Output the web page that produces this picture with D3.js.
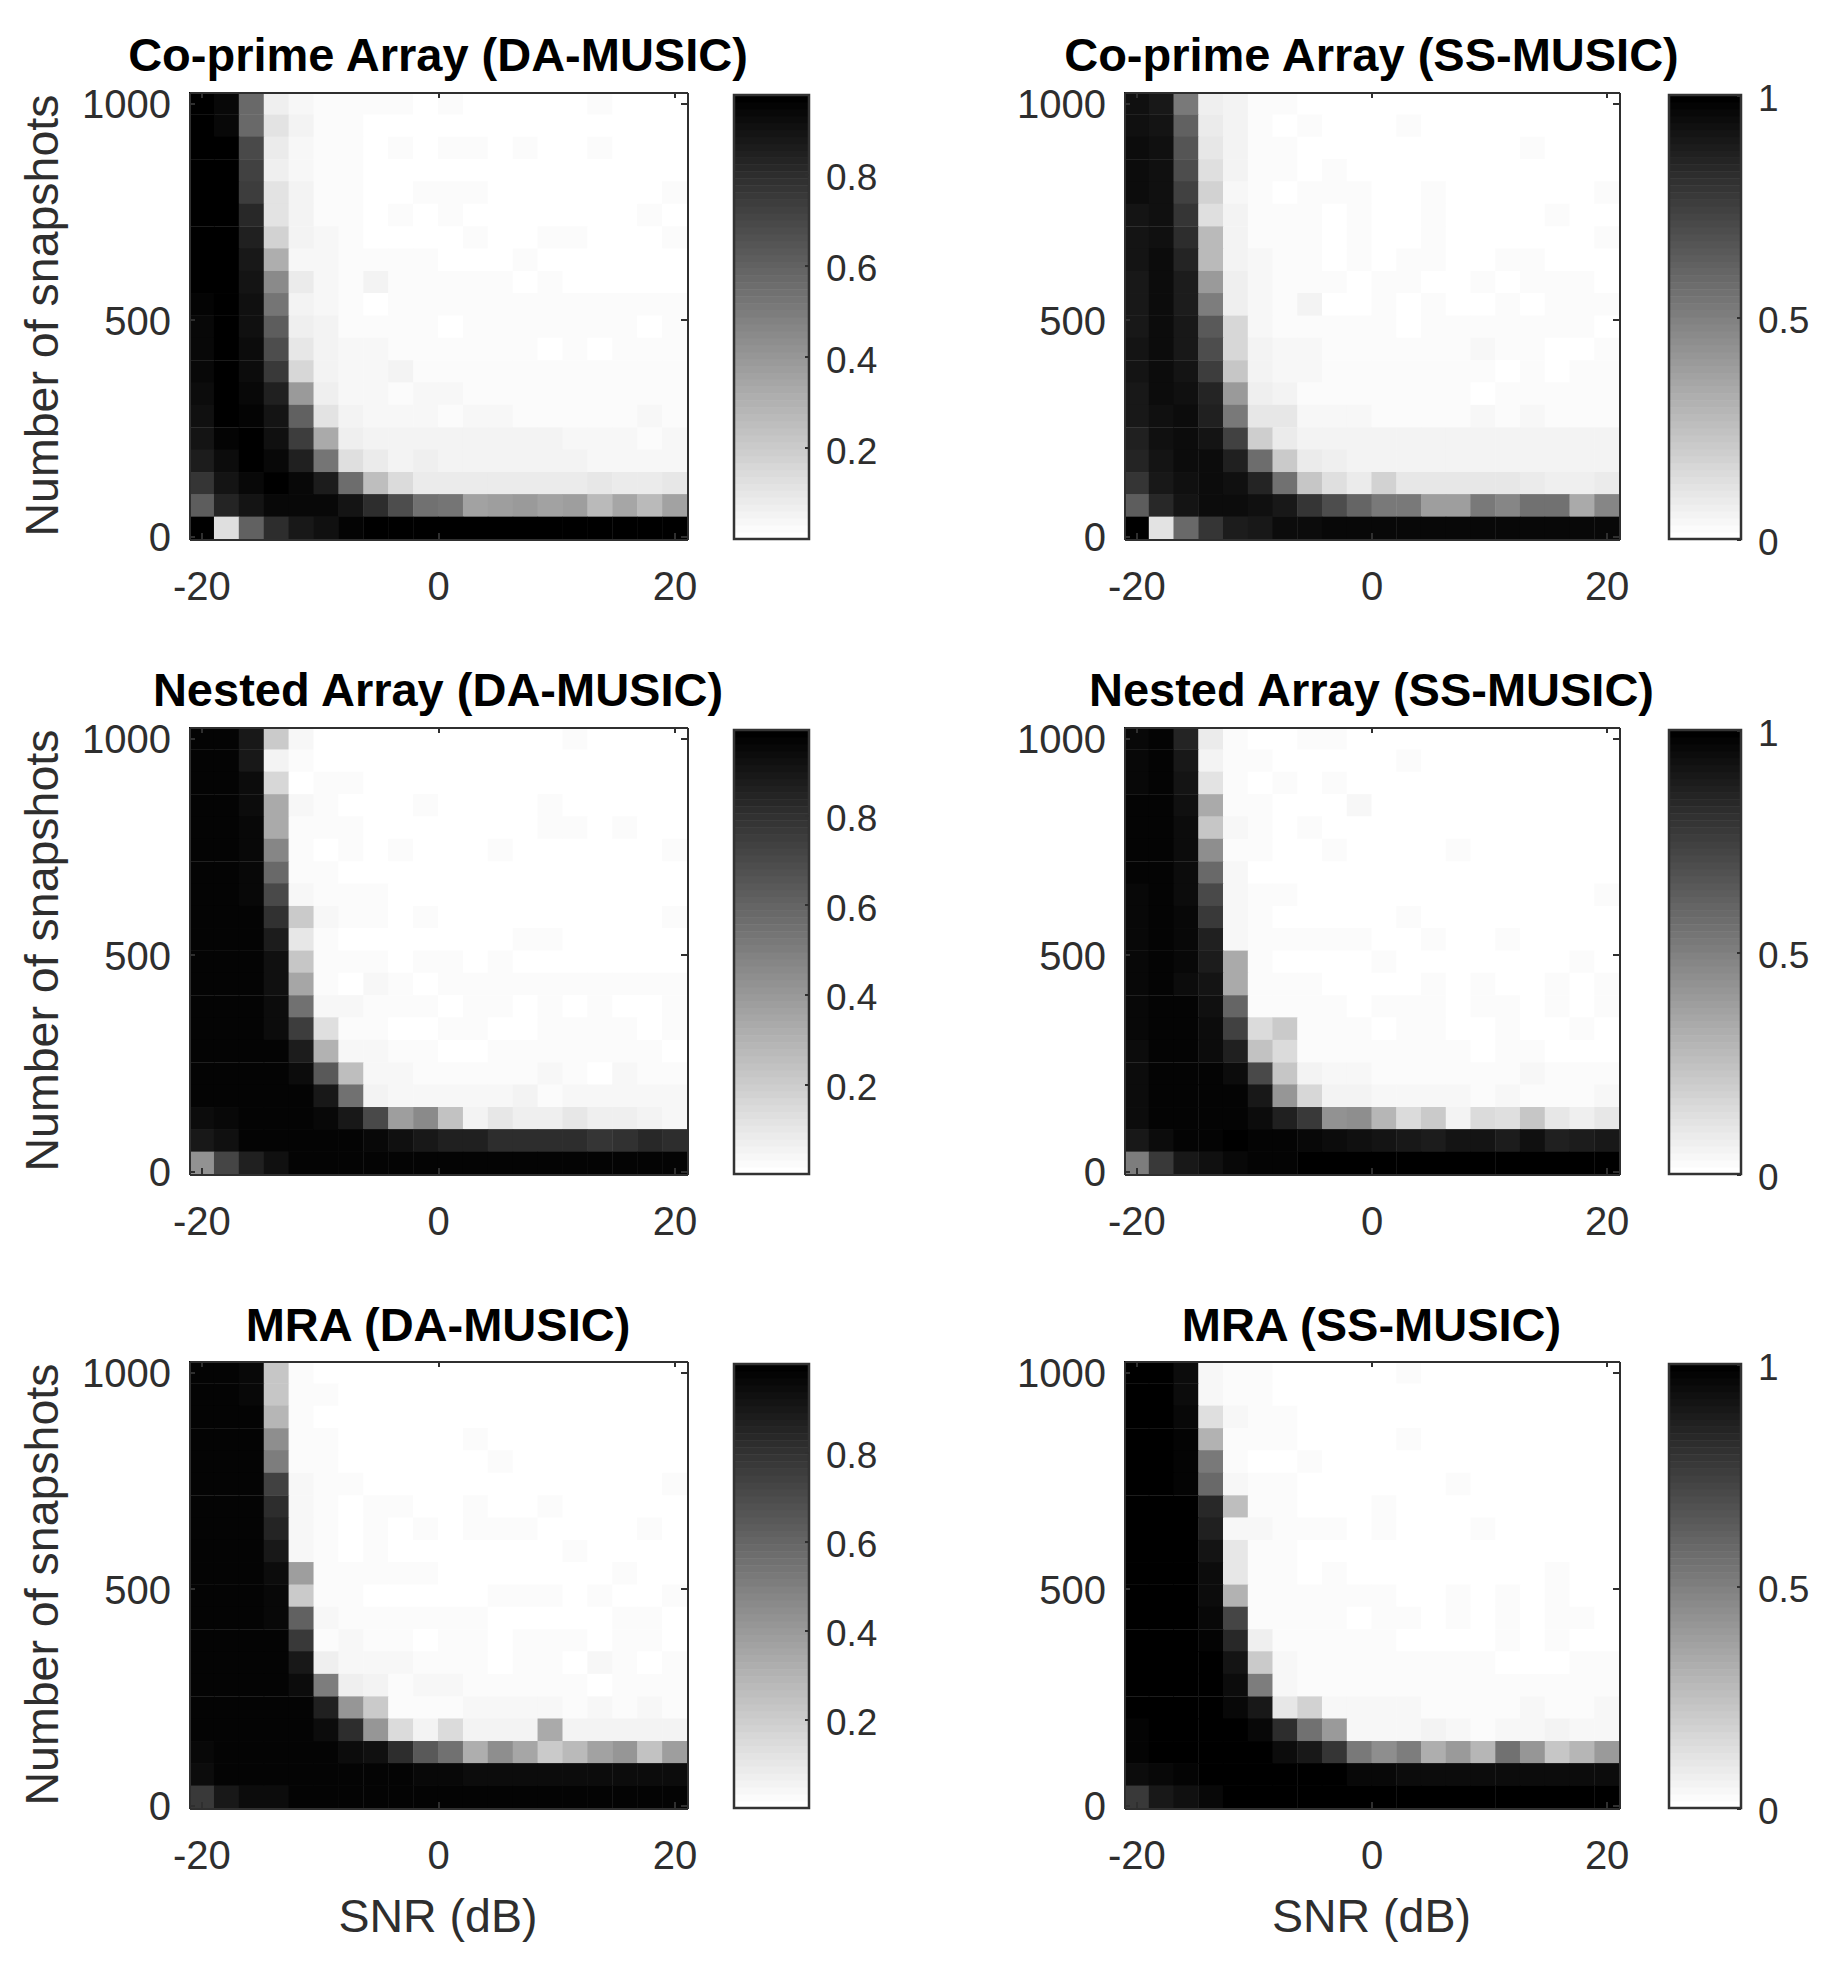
<!DOCTYPE html>
<html lang="en">
<head>
<meta charset="utf-8">
<title>Resolution probability maps</title>
<script src="https://cdn.jsdelivr.net/npm/d3@7/dist/d3.min.js"></script>
<style>
  html, body { margin: 0; padding: 0; background: #fff; }
  svg { display: block; font-family: "Liberation Sans", Arimo, sans-serif; }
  .axis path, .axis line { stroke: #2f2f2f; fill: none; shape-rendering: crispEdges; }
  .axis path { stroke-width: 2px; }
  .axis line { stroke-width: 2px; }
  .axis text { fill: #2e2e2e; font-size: 40px; }
  .bar-axis text { font-size: 37px; }
  .label { fill: #2e2e2e; font-size: 46.5px; }
  .title { fill: #000; font-size: 47px; font-weight: bold; }
</style>
</head>
<body>
<script>
// cell centres, SNR in dB and number of snapshots
var snr = [-20,-17.89,-15.79,-13.68,-11.58,-9.47,-7.37,-5.26,-3.16,-1.05,1.05,3.16,5.26,7.37,9.47,11.58,13.68,15.79,17.89,20];
var snapshots = [1000,948,897,845,794,742,690,639,587,536,484,433,381,330,278,226,175,123,72,20];
var snrStep = 2.105, snapStep = 51.58;

var snrTicks = [-20, 0, 20];
var snapTicks = [0, 500, 1000];

var titles = ["Co-prime Array (DA-MUSIC)", "Co-prime Array (SS-MUSIC)", "Nested Array (DA-MUSIC)",
              "Nested Array (SS-MUSIC)", "MRA (DA-MUSIC)", "MRA (SS-MUSIC)"];

// colour limits of each panel and the ticks of its colorbar
var colorMax = [0.975, 1, 0.99, 1, 1, 1];
var daBarTicks = [0.2, 0.4, 0.6, 0.8];
var ssBarTicks = [0, 0.5, 1];

// values in percent, rows from 1000 snapshots down to 20
var coprimeDA = [
  [98,94,58,6,3,1,1,1,1,0,1,0,0,0,0,0,1,0,0,0],
  [98,94,58,11,5,2,2,0,0,0,0,0,0,0,0,0,0,0,0,0],
  [98,97,70,8,3,1,1,0,1,0,1,1,0,1,0,0,1,0,0,0],
  [98,97,72,6,3,1,1,0,0,0,0,0,0,0,0,0,0,0,0,0],
  [98,97,75,11,4,1,1,0,0,1,1,1,0,0,0,0,0,0,0,1],
  [97,97,82,11,4,2,1,0,1,0,1,0,0,0,0,0,0,0,1,0],
  [97,97,85,17,5,3,1,0,0,0,0,1,0,0,1,1,0,0,0,1],
  [97,98,88,31,3,3,2,2,2,2,0,0,0,1,0,0,0,0,0,0],
  [97,98,90,45,7,3,2,4,2,2,2,1,2,0,2,0,0,0,0,0],
  [96,98,92,53,5,3,2,0,1,1,1,1,2,2,2,1,2,1,2,1],
  [95,98,92,62,6,4,2,2,2,2,0,1,1,1,2,2,2,2,0,1],
  [95,98,93,68,9,4,3,3,2,2,2,2,2,2,0,2,0,2,2,2],
  [95,98,93,76,16,4,3,3,4,2,2,2,2,2,2,2,2,2,2,2],
  [93,98,94,85,38,6,3,3,2,3,3,2,2,2,2,2,2,2,2,2],
  [92,97,96,90,60,11,4,3,3,3,2,3,3,2,2,2,2,2,3,2],
  [90,96,97,92,74,32,6,5,4,4,5,4,4,4,4,3,3,3,2,3],
  [86,93,97,95,85,52,12,7,5,6,5,5,5,5,5,5,3,3,3,3],
  [78,89,95,97,94,86,55,24,14,8,8,7,7,7,7,7,9,7,7,9],
  [62,83,90,94,95,95,90,80,68,54,52,35,37,38,35,37,27,34,27,36],
  [97,13,60,80,88,91,96,97,97,97,97,97,97,97,97,97,97,97,97,97]
];
var coprimeSS = [
  [93,91,53,6,4,2,2,0,0,0,0,0,0,0,0,0,0,0,0,0],
  [94,92,62,8,4,2,0,1,0,0,0,1,0,0,0,0,0,0,0,0],
  [95,94,67,10,4,2,2,0,0,0,0,0,0,0,0,0,1,0,0,0],
  [95,94,70,12,5,2,2,0,1,0,0,0,0,0,0,0,0,0,0,0],
  [95,94,75,18,3,2,0,1,1,1,0,0,1,0,0,0,0,0,0,1],
  [92,94,80,12,4,2,1,1,0,1,0,0,1,0,0,0,0,1,0,0],
  [92,94,83,27,4,2,1,1,0,1,0,0,1,0,0,0,0,0,0,1],
  [92,96,86,27,5,3,1,1,0,1,0,1,1,0,0,1,1,0,0,0],
  [91,96,89,40,7,3,2,2,2,0,1,1,0,0,1,0,1,1,1,0],
  [90,96,89,50,7,3,2,4,0,0,1,0,2,0,0,2,0,2,2,1],
  [90,96,90,65,16,3,2,2,2,2,1,0,2,2,2,2,2,2,1,0],
  [92,96,91,70,16,4,3,3,2,2,2,2,2,2,3,2,2,0,0,2],
  [92,96,92,76,23,4,3,3,2,2,2,2,2,2,2,0,2,0,2,2],
  [91,95,93,85,40,6,5,2,2,2,2,2,2,2,0,2,2,2,2,2],
  [90,94,96,88,52,10,9,3,3,3,2,2,2,1,3,1,3,2,2,2],
  [88,93,95,92,75,19,8,5,4,5,4,4,4,4,4,4,4,4,4,4],
  [86,92,95,95,87,57,20,8,6,5,5,5,5,5,5,4,4,4,5,5],
  [80,90,93,95,93,85,55,22,13,8,18,9,9,9,9,9,8,7,7,8],
  [64,84,92,95,95,93,90,80,70,60,53,52,38,38,53,47,55,55,33,48],
  [100,11,58,80,89,91,95,95,97,97,97,97,97,97,97,97,97,97,97,97]
];
var nestedDA = [
  [98,98,90,20,3,0,0,0,0,0,0,0,0,0,0,1,0,0,0,0],
  [98,98,90,4,2,0,0,0,0,0,0,0,0,0,0,0,0,0,0,0],
  [98,98,95,15,0,1,1,0,0,0,0,0,0,0,0,0,0,0,0,0],
  [98,98,95,33,3,1,0,0,0,1,0,0,0,0,1,0,0,0,0,0],
  [98,98,96,33,1,1,1,0,0,0,0,0,0,0,1,1,0,1,0,0],
  [98,98,96,47,1,0,1,0,1,0,0,0,1,0,0,0,0,0,0,1],
  [98,98,96,58,1,1,0,0,0,0,0,0,0,0,0,0,0,0,0,0],
  [98,98,96,70,3,2,2,2,0,0,0,0,0,0,0,0,0,0,0,0],
  [98,98,98,80,20,3,2,2,0,1,0,0,0,0,0,0,0,0,0,1],
  [98,98,98,88,9,1,0,0,0,0,0,0,0,1,1,0,0,0,0,0],
  [98,98,98,92,22,2,1,1,0,1,1,0,1,0,0,0,0,0,0,0],
  [98,98,98,92,35,2,0,3,2,0,1,1,1,2,1,1,2,1,2,1],
  [98,98,98,94,55,3,3,2,2,2,0,1,1,0,1,0,2,0,0,1],
  [98,98,98,95,75,12,2,2,0,0,1,1,0,0,1,1,1,1,0,1],
  [98,98,98,98,88,30,3,3,2,2,0,0,1,1,1,2,2,1,1,0],
  [97,98,98,98,94,65,25,3,3,2,2,2,2,2,3,2,0,3,1,2],
  [97,98,98,98,98,90,55,4,3,3,3,3,3,4,2,3,3,3,3,3],
  [95,96,98,98,98,96,90,70,38,45,24,5,9,7,7,10,6,6,5,3],
  [90,93,98,98,98,98,98,96,92,90,87,86,82,82,82,82,78,80,83,82],
  [42,73,86,92,97,97,98,98,98,98,98,98,98,98,98,98,98,98,98,98]
];
var nestedSS = [
  [97,99,85,8,2,0,0,1,1,0,0,0,0,0,0,0,0,0,0,0],
  [97,99,91,4,2,2,0,0,0,0,0,1,0,0,0,0,0,0,0,0],
  [97,99,92,11,1,0,2,0,2,0,0,0,0,0,0,0,0,0,0,0],
  [98,99,94,33,1,1,0,0,0,3,0,0,0,0,0,0,0,0,0,0],
  [98,99,95,23,3,1,0,1,0,0,0,0,0,0,0,0,0,0,0,0],
  [98,99,96,45,1,1,0,0,1,0,0,0,0,1,0,0,0,0,0,0],
  [98,99,96,58,3,0,0,0,0,0,0,0,0,0,0,0,0,0,0,0],
  [97,99,96,72,3,1,1,0,0,0,0,0,0,0,0,0,0,0,0,1],
  [97,99,97,78,3,1,0,0,0,0,0,1,0,0,0,0,0,0,0,0],
  [97,99,97,87,3,2,2,2,1,2,0,0,1,0,0,1,0,0,0,0],
  [97,99,97,89,33,1,0,0,0,0,1,0,0,0,0,0,0,0,1,0],
  [97,99,96,92,34,2,2,2,0,0,0,0,1,0,1,0,0,1,0,1],
  [97,99,99,93,60,2,2,2,1,0,1,1,1,0,1,1,0,1,0,1],
  [97,99,99,95,75,14,20,1,1,1,0,1,1,0,0,1,0,0,1,0],
  [96,98,99,96,88,24,14,1,2,1,1,1,1,1,0,1,1,0,0,0],
  [96,98,99,98,95,72,22,5,3,3,2,2,2,2,2,2,3,2,2,2],
  [96,98,99,99,98,90,42,16,5,5,3,3,3,3,2,3,2,2,2,3],
  [95,98,98,99,98,96,88,78,43,45,29,15,20,4,15,13,22,9,6,10],
  [90,95,98,99,100,99,98,97,95,94,92,90,89,92,92,89,93,88,89,90],
  [50,78,90,94,97,98,98,100,100,100,100,100,100,100,100,100,100,100,100,100]
];
var mraDA = [
  [99,99,97,22,2,0,0,0,0,0,0,0,0,0,0,0,0,0,0,0],
  [99,99,97,22,2,2,0,0,0,0,0,0,0,0,0,0,0,0,0,0],
  [99,99,98,28,2,0,0,0,0,0,0,0,0,0,0,0,0,0,0,0],
  [99,99,98,45,2,2,0,0,0,0,0,1,0,0,0,0,0,0,0,0],
  [99,99,98,50,2,1,0,0,0,0,0,0,1,0,0,0,0,0,0,0],
  [99,99,99,75,3,2,2,0,0,0,0,0,0,0,0,0,0,0,0,1],
  [99,99,99,83,3,1,0,1,1,0,0,1,0,0,1,0,0,0,0,0],
  [99,99,99,86,3,1,0,1,0,2,0,1,1,1,0,0,0,0,1,0],
  [99,99,99,90,3,2,0,1,0,0,0,0,0,0,0,1,0,0,0,0],
  [99,99,99,95,38,2,1,1,1,1,0,0,0,0,0,0,0,1,0,0],
  [99,99,99,97,20,1,1,0,0,0,0,0,1,1,1,0,1,0,0,1],
  [99,99,99,97,62,3,2,2,2,2,1,1,0,0,0,0,0,1,1,0],
  [99,99,99,99,78,1,3,2,2,0,2,1,0,1,1,1,0,1,1,0],
  [99,99,99,99,90,6,3,3,3,2,2,1,0,1,1,0,3,1,0,1],
  [99,99,99,99,95,50,6,4,2,3,3,2,2,2,2,2,0,2,2,2],
  [99,99,99,99,99,87,42,20,2,2,2,3,3,3,3,2,3,2,3,2],
  [99,99,99,99,99,96,82,42,14,5,15,4,4,4,34,5,5,5,5,5],
  [97,99,99,99,99,99,96,93,82,65,55,32,45,35,20,27,36,42,24,38],
  [96,99,99,99,99,99,99,99,99,97,97,95,95,95,95,95,95,95,95,95],
  [78,90,95,96,99,99,99,99,99,99,99,99,99,99,99,99,99,99,99,99]
];
var mraSS = [
  [100,100,96,3,2,2,0,0,0,0,0,1,0,0,0,0,0,0,0,0],
  [100,100,96,3,2,2,0,0,0,0,0,0,0,0,0,0,0,0,0,0],
  [100,100,97,13,3,1,1,0,0,0,0,0,0,0,0,0,0,0,0,0],
  [100,100,98,30,1,1,1,0,0,0,0,1,0,0,0,0,0,0,0,0],
  [100,100,98,52,1,0,0,1,0,0,0,0,0,0,0,0,0,0,0,0],
  [100,100,99,58,3,1,1,0,0,0,0,0,0,1,0,0,0,0,0,0],
  [100,100,100,84,25,1,1,0,0,0,1,0,0,0,0,0,0,0,0,0],
  [100,100,100,87,3,3,1,1,1,0,1,0,0,0,1,0,0,0,0,0],
  [100,100,100,92,9,2,1,0,0,0,0,0,0,0,0,0,0,0,0,0],
  [100,100,100,95,9,2,1,0,1,0,0,0,0,0,0,0,0,1,0,0],
  [100,100,100,96,30,2,1,1,1,1,1,0,0,1,0,1,0,1,0,0],
  [100,100,100,97,73,2,1,1,1,0,1,1,0,1,0,1,0,1,1,0],
  [100,100,100,98,84,6,1,1,1,1,1,0,0,0,0,1,0,1,0,0],
  [100,100,100,100,92,20,3,1,1,1,1,1,1,1,1,0,0,0,1,1],
  [100,100,100,100,96,50,3,1,1,1,1,1,1,1,1,1,1,2,1,1],
  [100,100,100,100,97,90,9,17,3,3,3,3,2,2,2,2,3,2,2,3],
  [98,100,100,100,100,97,82,56,39,3,3,3,4,3,2,3,3,4,3,3],
  [98,100,100,100,100,100,96,91,79,52,45,50,32,40,28,56,42,22,28,40],
  [96,97,99,100,100,100,100,100,100,97,97,96,96,96,96,96,96,96,96,96],
  [78,90,94,97,100,100,100,100,100,100,100,100,100,100,100,100,100,100,100,100]
];
var panelData = [coprimeDA, coprimeSS, nestedDA, nestedSS, mraDA, mraSS];

// layout, pixels
var colX = [{left: 189, right: 687, barLeft: 734, barRight: 809},
            {left: 1124, right: 1619, barLeft: 1669, barRight: 1741}];
var rowY = [{top: 92, bottom: 539, barTop: 95, titleY: 71},
            {top: 727, bottom: 1174, barTop: 730, titleY: 706},
            {top: 1361, bottom: 1808, barTop: 1364, titleY: 1341}];

var grays = d3.range(64).map(function(i) {
  var g = Math.round(255 * (1 - i / 63));
  return d3.rgb(g, g, g).formatHex();
});

var svg = d3.select("body").append("svg")
  .attr("width", 1848)
  .attr("height", 1984);

panelData.forEach(function(values, p) {
  var col = colX[p % 2], row = rowY[Math.floor(p / 2)];
  var isDA = p % 2 == 0;

  var xScale = d3.scaleLinear()
    .domain([-20 - snrStep / 2, 20 + snrStep / 2])
    .range([col.left, col.right]);
  var yScale = d3.scaleLinear()
    .domain([20 - snapStep / 2, 1000 + snapStep / 2])
    .range([row.bottom, row.top]);
  // half a level of padding so that a value rounds to the nearest gray
  var halfLevel = colorMax[p] / 126;
  var color = d3.scaleQuantize()
    .domain([-halfLevel, colorMax[p] + halfLevel])
    .range(grays);

  var g = svg.append("g");

  // heat map cells
  values.forEach(function(rowValues, r) {
    g.selectAll(null)
      .data(rowValues)
      .enter()
      .append("rect")
      .attr("x", function(d, c) { return xScale(snr[c] - snrStep / 2); })
      .attr("width", xScale(snrStep) - xScale(0) + 0.5)
      .attr("y", yScale(snapshots[r] + snapStep / 2))
      .attr("height", yScale(0) - yScale(snapStep) + 0.5)
      .attr("fill", function(d) { return color(d / 100); });
  });

  // axes with ticks on all four sides, pointing inward
  var bottom = d3.axisBottom(xScale).tickValues(snrTicks).tickSizeInner(-6).tickSizeOuter(0).tickPadding(33).tickFormat(function(d) { return String(d); });
  var left = d3.axisLeft(yScale).tickValues(snapTicks).tickSizeInner(-6).tickSizeOuter(0).tickPadding(18).tickFormat(function(d) { return String(d); });
  var top = d3.axisTop(xScale).tickValues(snrTicks).tickSizeInner(-6).tickSizeOuter(0).tickFormat("");
  var right = d3.axisRight(yScale).tickValues(snapTicks).tickSizeInner(-6).tickSizeOuter(0).tickFormat("");

  g.append("g").attr("class", "axis").attr("transform", "translate(0," + row.bottom + ")").call(bottom);
  g.append("g").attr("class", "axis y-left").attr("transform", "translate(" + col.left + ",0)").call(left);
  g.append("g").attr("class", "axis").attr("transform", "translate(0," + row.top + ")").call(top);
  g.append("g").attr("class", "axis").attr("transform", "translate(" + col.right + ",0)").call(right);

  // matlab labels hang a little under the tick
  g.selectAll(".y-left text").attr("dy", "0.36em");

  g.append("text")
    .attr("class", "title")
    .attr("x", (col.left + col.right) / 2)
    .attr("y", row.titleY)
    .attr("text-anchor", "middle")
    .text(titles[p]);

  if (isDA) {
    g.append("text")
      .attr("class", "label")
      .attr("text-anchor", "middle")
      .attr("transform", "translate(58," + (row.top + row.bottom) / 2 + ") rotate(-90)")
      .text("Number of snapshots");
  }
  if (p >= 4) {
    g.append("text")
      .attr("class", "label")
      .attr("text-anchor", "middle")
      .attr("x", (col.left + col.right) / 2)
      .attr("y", 1932)
      .text("SNR (dB)");
  }

  // colorbar
  var barScale = d3.scaleLinear()
    .domain([0, colorMax[p]])
    .range([row.bottom, row.barTop]);
  g.selectAll(null)
    .data(grays)
    .enter()
    .append("rect")
    .attr("x", col.barLeft)
    .attr("width", col.barRight - col.barLeft)
    .attr("y", function(d, i) { return barScale(colorMax[p] * (i + 1) / 64); })
    .attr("height", (row.bottom - row.barTop) / 64 + 0.5)
    .attr("fill", function(d) { return d; });
  g.append("rect")
    .attr("x", col.barLeft)
    .attr("y", row.barTop)
    .attr("width", col.barRight - col.barLeft)
    .attr("height", row.bottom - row.barTop)
    .attr("fill", "none")
    .attr("stroke", "#333")
    .attr("stroke-width", 2.5);

  var barAxis = d3.axisRight(barScale)
    .tickValues(isDA ? daBarTicks : ssBarTicks)
    .tickSizeInner(-4).tickSizeOuter(0).tickPadding(17)
    .tickFormat(function(d) { return String(d); });
  var barG = g.append("g").attr("class", "axis bar-axis").attr("transform", "translate(" + col.barRight + ",0)").call(barAxis);
  barG.select("path").remove();
  barG.selectAll("text").attr("dy", "0.41em");
});
</script>
</body>
</html>
